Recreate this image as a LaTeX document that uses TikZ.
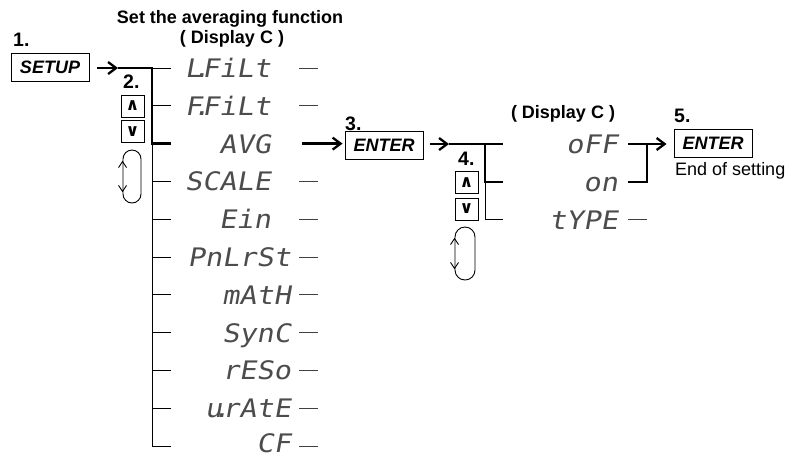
\documentclass[tikz,border=0pt]{standalone}
\usepackage{fontspec}
\setmainfont{Liberation Sans}
\newfontfamily\segfont{DejaVu Sans Mono}[FakeSlant=0.18,FakeStretch=1.12]
\newfontfamily\symfont{DejaVu Sans}
\usetikzlibrary{arrows.meta,calc}
\newcommand{\segdot}{\kern-0.36em.\kern-0.314em}
\begin{document}
\begin{tikzpicture}[x=1pt,y=-1pt,
 thk/.style={line width=2.3pt},
 thn/.style={line width=0.9pt},
 tickln/.style={line width=0.9pt, black!75},
 seg/.style={font=\segfont\fontsize{25.5}{26}\selectfont, text=black!70, inner sep=0pt, anchor=base east},
 keybox/.style={draw, line width=0.9pt, minimum width=78pt, minimum height=28pt, inner sep=0pt, font=\fontsize{18}{20}\selectfont\bfseries\itshape},
 stepnum/.style={font=\fontsize{19.5}{20}\selectfont\bfseries, inner sep=0pt, anchor=base west},
 hdr/.style={font=\fontsize{18}{20}\selectfont\bfseries, inner sep=0pt, anchor=base},
 updn/.style={draw, line width=0.9pt, minimum width=23pt, minimum height=22pt, inner sep=0pt, font=\symfont\bfseries\fontsize{17}{17}\selectfont},
 jog/.style={draw, line width=0.9pt, rounded corners=9pt, minimum width=18pt, minimum height=53pt, inner sep=0pt},
 arr/.style={-{Straight Barb[length=8pt,width=12pt]}}
]
\useasboundingbox (0,0) rectangle (791,459);

% headers
\node[hdr] (t1) at (230,23) {Set the averaging function};
\node[hdr] (t2) at (232,43) {( Display C )};
\node[hdr] (t3) at (563,118) {( Display C )};

% step 1
\node[stepnum] (n1) at (13,46) {1.};
\node[keybox] (setup) at (50,67) {SETUP};
\coordinate (s1) at (97,68);
\coordinate (s1h) at (118,68);
\coordinate (v1a) at (152,68);
\coordinate (v1b) at (152,143.6);
\coordinate (v1c) at (152,446);
\draw[thk,arr] (s1) -- (s1h);
\draw[thk] (s1h) -- (v1a) -- (v1b) -- (171,143.6);
\draw[thn] (v1a) -- (171,68);
\draw[thn] (v1b) -- (v1c) -- (171,446);
\foreach \yy in {105.8,181.4,219.2,257,294.8,332.6,370.4,408.2}
  \draw[thn] (152,\yy) -- (171,\yy);

% step 2 keys
\node[stepnum] (n2) at (123,88) {2.};
\node[updn] (up1) at (132.5,106) {∧};
\node[updn] (dn1) at (132.5,131.5) {∨};
\node[jog] (jog1) at (132,176.5) {};
\draw[thn] ($(jog1.north west)+(-4,18)$) -- ($(jog1.north west)+(0,12)$) -- ($(jog1.north west)+(4,18)$);
\draw[thn] ($(jog1.south west)+(-4,-18)$) -- ($(jog1.south west)+(0,-12)$) -- ($(jog1.south west)+(4,-18)$);

% menu items
\node[seg] (i1) at (271,77.5) {L\segdot FiLt};
\node[seg] (i2) at (271,115.3) {F\segdot FiLt};
\node[seg] (i3) at (271,153.1) {AVG};
\node[seg] (i4) at (271,190.9) {SCALE};
\node[seg] (i5) at (271,228.7) {Ein};
\node[seg] (i6) at (291,266.5) {PnLrSt};
\node[seg] (i7) at (291,304.3) {mAtH};
\node[seg] (i8) at (291,342.1) {SynC};
\node[seg] (i9) at (291,379.9) {rESo};
\node[seg] (i10) at (291,417.7) {u\segdot rAtE};
\node[seg] (i11) at (291,452.5) {CF};
\foreach \yy in {68,105.8,181.4,219.2,257,294.8,332.6,370.4,408.2,446}
  \draw[tickln] (299,\yy) -- (318,\yy);

% step 3
\node[stepnum] (n3) at (345,130) {3.};
\node[keybox] (enter1) at (384,145) {ENTER};
\coordinate (a3) at (302,143.6);
\draw[thk,arr,shorten >=2pt] (a3) -- (enter1.west |- a3);

\coordinate (e1) at (430,144);
\coordinate (e1h) at (449,144);
\coordinate (v2a) at (485,144);
\coordinate (v2b) at (485,182);
\coordinate (v2c) at (485,219.5);
\draw[thk,arr] (e1) -- (e1h);
\draw[thk] (e1h) -- (503,144);
\draw[thk] (v2a) -- (v2b) -- (503,182);
\draw[thn] (v2b) -- (v2c) -- (503,219.5);

% step 4 keys
\node[stepnum] (n4) at (458,165) {4.};
\node[updn] (up2) at (466.5,182.5) {∧};
\node[updn] (dn2) at (466.5,209) {∨};
\node[jog, minimum width=20pt, rounded corners=10pt] (jog2) at (465,253.5) {};
\draw[thn] ($(jog2.north west)+(-4,18)$) -- ($(jog2.north west)+(0,12)$) -- ($(jog2.north west)+(4,18)$);
\draw[thn] ($(jog2.south west)+(-4,-18)$) -- ($(jog2.south west)+(0,-12)$) -- ($(jog2.south west)+(4,-18)$);

% sub-items
\node[seg] (j1) at (618,153.5) {oFF};
\node[seg] (j2) at (618,191.5) {on};
\node[seg] (j3) at (618,229.5) {tYPE};
\draw[tickln] (628,219.5) -- (647,219.5);

% step 5
\node[stepnum] (n5) at (674,122) {5.};
\node[keybox] (enter2) at (713,143) {ENTER};
\node[font=\fontsize{18}{20}\selectfont, inner sep=0pt, anchor=base west] (eos) at (675,175) {End of setting};
\coordinate (o1) at (628,144);
\coordinate (o2) at (628,182);
\coordinate (ov) at (647,182);
\draw[thk,arr,shorten >=7pt] (o1) -- (enter2.west |- o1);
\draw[thk] (o2) -- (ov) -- (647,144);
\end{tikzpicture}
\end{document}
